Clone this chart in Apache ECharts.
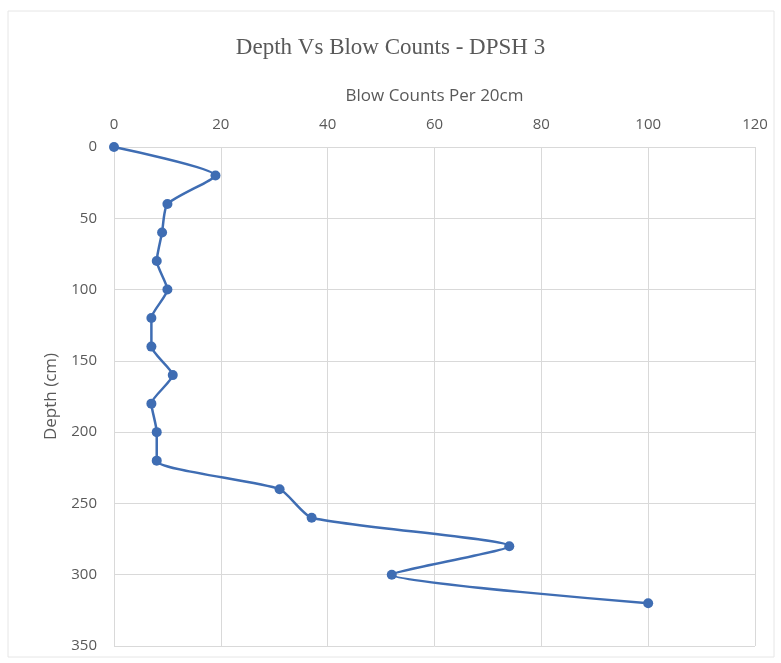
<!DOCTYPE html>
<html>
<head>
<meta charset="utf-8">
<script src="https://cdn.jsdelivr.net/npm/echarts@6/dist/echarts.min.js"></script>
<style>
  html, body { margin: 0; padding: 0; background: #fff; }
  #chart { width: 781px; height: 663px; }
</style>
</head>
<body>
<div id="chart"></div>
<script>
// Dynamic probe (DPSH 3): blow counts recorded every 20 cm of depth
const depths = [0, 20, 40, 60, 80, 100, 120, 140, 160, 180, 200, 220, 240, 260, 280, 300, 320];
const blowCounts = [0, 19, 10, 9, 8, 10, 7, 7, 11, 7, 8, 8, 31, 37, 74, 52, 100];

const chart = echarts.init(document.getElementById('chart'));

const labelColor = '#595959';
const gridColor = '#d9d9d9';
const lineColor = '#3f6db3';

chart.setOption({
  animation: false,
  backgroundColor: '#fff',
  graphic: [{
    type: 'rect',
    shape: { x: 8, y: 11, width: 766, height: 646 },
    style: { fill: 'none', stroke: '#e6e6e6', lineWidth: 1 },
    z: -1
  }],
  title: {
    text: 'Depth Vs Blow Counts - DPSH 3',
    left: 'center',
    top: 31,
    textStyle: {
      fontFamily: 'Liberation Serif',
      fontWeight: 'normal',
      fontSize: 23,
      color: labelColor
    }
  },
  grid: { left: 114, right: 26, top: 147, bottom: 17 },
  xAxis: {
    type: 'value',
    position: 'top',
    min: 0,
    max: 120,
    interval: 20,
    name: 'Blow Counts Per 20cm',
    nameLocation: 'middle',
    nameGap: 42,
    nameTextStyle: { fontFamily: 'Open Sans', fontSize: 17, color: labelColor },
    axisLine: { show: false },
    axisTick: { show: false },
    axisLabel: { fontFamily: 'Open Sans', fontSize: 15, color: labelColor, margin: 15 },
    splitLine: { show: true, lineStyle: { color: gridColor, width: 1 } }
  },
  yAxis: {
    type: 'value',
    inverse: true,
    min: 0,
    max: 350,
    interval: 50,
    name: 'Depth (cm)',
    nameLocation: 'middle',
    nameGap: 54,
    nameRotate: 90,
    nameTextStyle: { fontFamily: 'Open Sans', fontSize: 17, color: labelColor },
    axisLine: { show: false },
    axisTick: { show: false },
    axisLabel: { fontFamily: 'Open Sans', fontSize: 15, color: labelColor, margin: 17 },
    splitLine: { show: true, lineStyle: { color: gridColor, width: 1 } }
  },
  series: [{
    type: 'line',
    data: depths.map((d, i) => [blowCounts[i], d]),
    smooth: 0.2,
    symbol: 'circle',
    symbolSize: 10,
    itemStyle: { color: lineColor },
    lineStyle: { color: lineColor, width: 2.5 },
    clip: false
  }]
});
</script>
</body>
</html>
